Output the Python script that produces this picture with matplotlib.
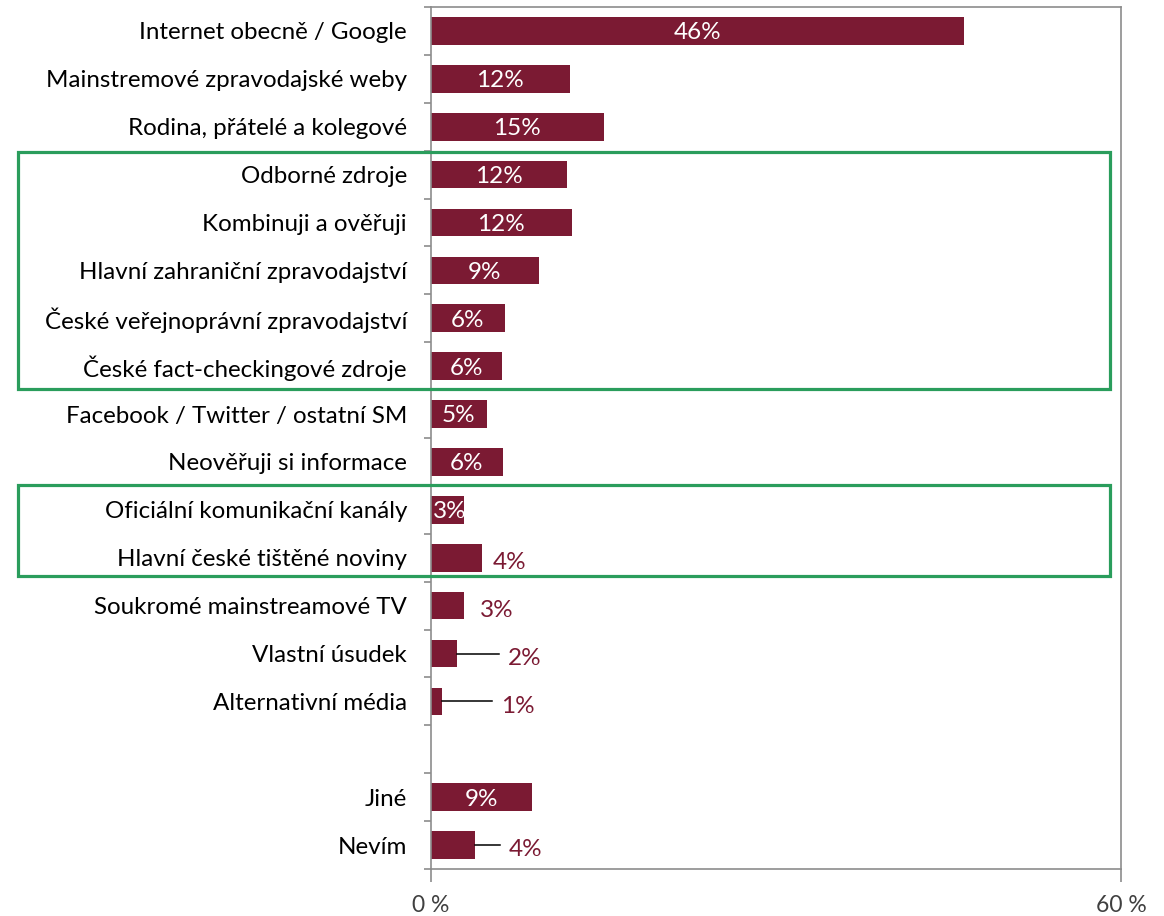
import matplotlib
matplotlib.use("Agg")
import matplotlib.pyplot as plt
from matplotlib.patches import Rectangle
import numpy as np

categories = [
    "Internet obecně / Google",
    "Mainstremové zpravodajské weby",
    "Rodina, přátelé a kolegové",
    "Odborné zdroje",
    "Kombinuji a ověřuji",
    "Hlavní zahraniční zpravodajství",
    "České veřejnoprávní zpravodajství",
    "České fact-checkingové zdroje",
    "Facebook / Twitter / ostatní SM",
    "Neověřuji si informace",
    "Oficiální komunikační kanály",
    "Hlavní české tištěné noviny",
    "Soukromé mainstreamové TV",
    "Vlastní úsudek",
    "Alternativní média",
    "",
    "Jiné",
    "Nevím",
]
values = [46.4, 12.1, 15.1, 11.9, 12.3, 9.4, 6.5, 6.2, 4.9, 6.3, 2.9, 4.5, 2.9, 2.3, 1.0, np.nan, 8.8, 3.9]
value_labels = ["46%", "12%", "15%", "12%", "12%", "9%", "6%", "6%", "5%", "6%", "3%", "4%", "3%", "2%", "1%", "", "9%", "4%"]
x_ticks = [0, 60]
x_tick_labels = ["0 %", "60 %"]

# label placement (style): index -> (label x in %, leader end x in % or None)
outside = {11: (6.9, None), 12: (5.8, None), 13: (8.2, 5.95), 14: (7.6, 5.35), 17: (8.3, 6.0)}

BAR = "#7B1A33"
GREEN = "#2A9D5C"
GRAY = "#8C8C8C"
FONT = ["Lato", "DejaVu Sans"]
plt.rcParams["font.family"] = FONT

W, H = 1164, 916
fig = plt.figure(figsize=(W / 100, H / 100), dpi=100)
ax = fig.add_axes([430.5 / W, 1 - 869 / H, (1121 - 430.5) / W, (869 - 7) / H])

n = len(categories)
y = np.arange(n)
ax.barh(y, values, height=0.58, color=BAR, zorder=2)
ax.set_ylim(n - 0.5, -0.5)
ax.set_xlim(0, 60)

for i, (v, lab) in enumerate(zip(values, value_labels)):
    if not lab:
        continue
    if i in outside:
        lx, lend = outside[i]
        if lend is not None:
            ax.plot([v, lend], [i, i], color="black", lw=1.1, zorder=3)
        ax.text(lx, i + 0.1, lab, ha="center", va="center", color=BAR, fontsize=17.5)
    else:
        ax.text(v / 2 if v > 3.5 else v / 2 + 0.2, i + 0.04, lab, ha="center", va="center",
                color="white", fontsize=17.5, zorder=4)

ax.set_yticks(y)
ax.set_yticklabels(categories, fontsize=17.4, color="black")
ax.set_yticks(np.arange(-0.5, n, 1), minor=True)
ax.tick_params(axis="y", which="major", length=0, pad=17)
ax.tick_params(axis="y", which="minor", length=5, color=GRAY, width=1.2, direction="out")
ax.set_xticks(x_ticks)
ax.set_xticklabels(x_tick_labels, fontsize=16.5, color="#404040")
ax.tick_params(axis="x", length=9, color=GRAY, width=1.2, pad=10)
for s in ax.spines.values():
    s.set_color(GRAY)
    s.set_linewidth(1.2)

def fig_rect(x0, y0, x1, y1):
    r = Rectangle((x0 / W, 1 - y1 / H), (x1 - x0) / W, (y1 - y0) / H,
                  transform=fig.transFigure, fill=False, edgecolor=GREEN, lw=2.3, zorder=10)
    fig.add_artist(r)

fig_rect(18, 152, 1110, 389)
fig_rect(18, 485, 1110, 576)

fig.savefig("out.png", dpi=100)
